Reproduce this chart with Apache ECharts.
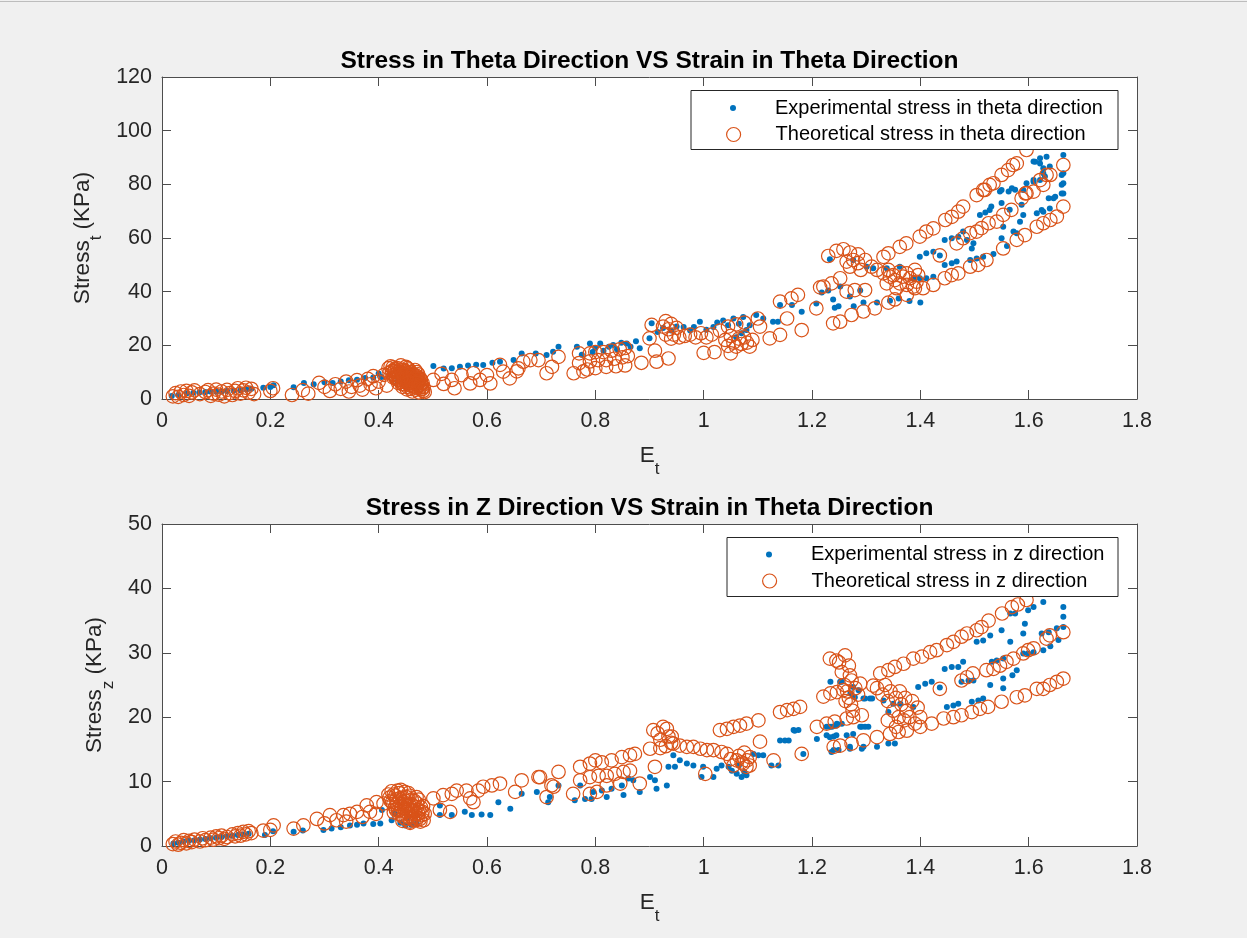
<!DOCTYPE html>
<html>
<head>
<meta charset="utf-8">
<title>Stress vs Strain</title>
<script src="https://cdn.jsdelivr.net/npm/echarts@6/dist/echarts.min.js"></script>
<style>
  html, body { margin: 0; padding: 0; background: #f0f0f0; }
  #chart { width: 1247px; height: 938px; }
</style>
</head>
<body>
<div id="chart"></div>
<script>
// ---- Data: [strain E_t, stress (KPa)] ----
const thetaExp = [
  [0.018,1.1],[0.03,1.5],[0.046,2.1],[0.058,2.3],[0.069,2.4],[0.08,2.6],[0.089,2.8],[0.1,2.7],[0.11,2.8],[0.12,3.0],
  [0.132,3.2],[0.145,3.3],[0.156,3.5],[0.165,3.8],[0.187,4.2],[0.206,5.1],[0.2,4.5],
  [0.243,4.4],[0.262,6.0],[0.28,5.5],[0.3,6.2],[0.315,6.0],[0.33,6.5],[0.345,7.0],[0.36,7.2],[0.375,7.8],[0.39,8.0],
  [0.4,9.5],[0.405,8.2],[0.42,9.0],[0.44,10.2],[0.455,9.5],[0.47,9.0],[0.46,11.0],[0.435,6.5],[0.45,5.5],
  [0.501,12.3],[0.52,11.4],[0.535,11.5],[0.55,12.0],[0.565,12.5],[0.58,12.8],[0.593,12.7],[0.61,13.5],[0.624,13.9],
  [0.649,14.5],[0.664,17.0],[0.69,17.0],[0.71,16.4],[0.722,17.6],[0.732,19.5],
  [0.766,19.5],[0.775,16.5],[0.79,20.7],[0.795,17.5],[0.8,19.0],[0.809,20.7],[0.815,18.0],[0.825,19.5],[0.833,20.1],
  [0.84,18.5],[0.848,21.0],[0.858,20.7],[0.865,19.5],[0.875,21.5],[0.882,18.9],
  [0.904,28.2],[0.9,22.6],[0.915,25.0],[0.925,26.5],[0.94,25.5],[0.95,27.0],[0.963,26.8],[0.975,25.5],[0.982,26.8],
  [0.993,28.8],[1.005,25.8],[1.018,26.8],[1.025,28.5],[1.036,29.3],[1.045,27.5],[1.055,30.0],[1.065,28.0],[1.073,30.6],
  [1.079,25.7],[1.085,27.5],[1.097,31.3],[1.11,30.0],[1.128,28.8],[1.137,28.8],[1.141,35.0],[1.163,35.0],[1.181,32.5],
  [1.208,35.6],[1.06,23.0],[1.07,24.5],
  [1.218,39.7],[1.23,40.4],[1.239,37.1],[1.242,34.0],[1.249,34.6],[1.252,41.9],[1.27,38.2],[1.277,34.6],[1.289,40.4],
  [1.295,36.0],[1.32,36.0],[1.344,36.6],[1.233,52.1],[1.276,51.8],[1.301,49.3],[1.313,48.7],[1.338,48.7],[1.362,49.3],
  [1.387,45.0],[1.399,45.0],[1.411,45.0],[1.424,45.6],[1.399,53.0],[1.411,54.3],[1.424,54.9],[1.436,53.5],[1.445,49.9],
  [1.458,50.6],[1.467,51.2],[1.492,51.8],[1.504,52.4],[1.516,53.0],[1.36,37.5],[1.38,36.5],[1.4,36.0],
  [1.445,59.3],[1.458,59.9],[1.47,60.5],[1.479,62.4],[1.486,59.3],[1.495,56.1],[1.498,58.0],[1.51,68.6],[1.52,69.5],
  [1.528,70.4],[1.531,71.7],[1.55,73.0],[1.565,70.5],[1.553,64.2],[1.55,59.9],[1.578,61.8],[1.572,62.4],[1.547,77.3],
  [1.563,77.3],[1.575,78.0],[1.587,72.4],[1.596,80.4],[1.609,81.6],[1.621,81.6],[1.63,82.9],[1.609,88.5],[1.621,87.8],
  [1.627,86.0],[1.637,74.8],[1.649,75.4],[1.661,76.6],[1.661,79.8],[1.661,83.5],[1.59,68.6],[1.615,69.2],[1.627,69.8],
  [1.584,66.1],[1.612,88.4],[1.621,89.7],[1.633,90.3],[1.639,86.6],[1.627,84.1],[1.609,81.0],[1.59,77.9],[1.569,78.5],
  [1.55,77.9],[1.664,90.9],[1.664,84.1],[1.664,80.4],[1.664,76.6],[1.646,74.8],[1.624,70.4],[1.639,71.0],[1.535,54.0],
  [1.56,57.0]
];

const thetaTheo = [
  [0.02,1.0],[0.025,2.2],[0.03,0.8],[0.035,2.8],[0.04,1.5],[0.045,3.0],[0.05,1.2],[0.055,2.5],[0.06,3.2],[0.07,1.8],
  [0.08,2.6],[0.085,3.3],[0.09,1.2],[0.095,2.0],[0.1,3.5],[0.105,1.6],[0.11,2.8],[0.115,1.0],[0.12,3.4],[0.125,2.2],
  [0.13,1.5],[0.135,3.0],[0.14,4.0],[0.145,2.0],[0.15,3.2],[0.155,4.2],[0.16,2.4],[0.165,3.8],[0.17,1.8],[0.2,3.0],[0.205,4.0],
  [0.24,1.5],[0.26,3.3],[0.27,2.0],[0.29,6.0],[0.3,4.5],[0.31,3.0],[0.32,5.5],[0.33,3.8],[0.34,6.5],[0.345,2.8],
  [0.35,4.5],[0.36,7.0],[0.365,5.0],[0.37,3.5],[0.38,7.5],[0.385,5.5],[0.39,8.5],[0.395,4.0],[0.4,6.5],[0.41,9.0],[0.415,5.0],
  [0.425,10.5],[0.428,9.0],[0.43,11.2],[0.432,7.5],[0.435,10.0],[0.437,8.5],[0.44,6.5],[0.44,11.0],[0.442,9.5],[0.445,7.8],
  [0.447,5.5],[0.448,10.2],[0.45,8.8],[0.452,6.8],[0.453,4.5],[0.455,9.5],[0.457,7.5],[0.458,5.8],[0.46,3.8],[0.46,8.5],
  [0.462,6.5],[0.464,4.8],[0.465,9.0],[0.467,7.0],[0.468,3.5],[0.47,5.5],[0.472,8.0],[0.474,6.2],[0.476,4.2],[0.478,7.0],
  [0.48,5.0],[0.482,3.0],[0.436,6.0],[0.45,12.0],[0.444,4.5],[0.47,10.0],[0.433,9.2],[0.456,11.0],
  [0.418,11.5],[0.42,9.8],[0.422,12.2],[0.426,11.8],[0.429,10.2],[0.431,8.2],[0.434,11.5],[0.438,9.8],[0.439,7.2],[0.441,12.5],
  [0.443,8.8],[0.446,10.8],[0.449,6.2],[0.451,9.6],[0.454,7.2],[0.456,5.2],[0.459,10.0],[0.461,7.8],[0.463,5.8],[0.466,8.2],
  [0.469,4.2],[0.471,6.8],[0.473,9.2],[0.475,5.0],[0.477,7.6],[0.479,3.6],[0.481,6.0],[0.483,4.4],[0.485,2.6],[0.452,3.6],
  [0.462,2.8],[0.474,2.5],[0.444,5.5],[0.437,7.0],[0.453,11.5],[0.467,10.8],[0.427,8.0],[0.458,9.0],[0.464,6.0],[0.448,7.0],
  [0.424,9.4],[0.43,10.6],[0.436,8.9],[0.441,10.0],[0.445,9.0],[0.447,8.2],[0.45,10.4],[0.452,8.0],[0.455,6.4],[0.457,8.6],
  [0.46,7.0],[0.463,9.4],[0.465,7.6],[0.468,6.0],[0.47,8.6],[0.472,5.0],[0.475,6.8],[0.478,5.4],[0.48,3.8],[0.466,4.6],
  [0.501,7.1],[0.516,9.4],[0.52,5.6],[0.535,7.1],[0.54,4.0],[0.553,8.9],[0.569,5.8],[0.575,9.6],[0.587,7.1],[0.6,8.9],
  [0.606,5.8],[0.624,12.7],[0.63,10.2],[0.642,7.7],[0.655,10.3],[0.658,11.4],[0.667,13.9],[0.68,14.5],[0.695,14.5],
  [0.71,9.6],[0.72,12.0],[0.732,15.7],
  [0.76,9.6],[0.77,13.4],[0.778,10.3],[0.77,17.0],[0.79,17.0],[0.8,17.5],[0.815,17.5],[0.83,18.0],[0.845,18.5],[0.855,19.0],
  [0.79,14.0],[0.805,14.5],[0.82,14.5],[0.835,15.0],[0.85,15.5],[0.86,16.0],[0.785,11.0],[0.8,11.5],[0.82,12.0],[0.838,12.2],
  [0.855,12.5],[0.885,13.5],
  [0.904,27.6],[0.9,22.6],[0.91,18.0],[0.913,13.9],[0.935,15.1],[0.925,27.0],[0.93,29.0],[0.935,26.0],[0.94,28.0],[0.945,24.0],
  [0.95,26.5],[0.955,23.0],[0.94,22.5],[0.93,24.0],[0.965,23.5],[0.975,24.0],[0.985,23.0],[0.995,24.5],[1.005,23.0],[1.015,24.0],
  [1.0,17.2],[1.02,17.5],[1.03,25.5],[1.045,27.0],[1.06,27.8],[1.075,28.5],[1.1,30.0],[1.04,22.0],[1.05,23.5],[1.055,21.0],
  [1.06,19.5],[1.065,22.5],[1.07,20.5],[1.075,23.0],[1.08,21.0],[1.085,19.5],[1.09,22.0],[1.045,19.8],[1.05,17.0],[1.104,27.0],
  [1.122,22.6],[1.141,23.9],[1.154,30.0],[1.181,25.7],[1.141,36.3],[1.162,37.5],[1.174,38.8],[1.208,33.8],[1.215,41.6],
  [1.221,41.9],[1.236,43.1],[1.252,45.0],[1.23,53.3],[1.245,55.2],[1.258,55.8],[1.27,54.6],[1.285,53.9],[1.276,51.8],
  [1.264,51.2],[1.285,50.6],[1.298,51.8],[1.27,49.3],[1.29,48.1],[1.31,49.3],[1.32,48.1],[1.332,46.8],[1.341,48.1],[1.35,46.2],
  [1.362,47.4],[1.375,46.8],[1.353,44.3],[1.362,43.1],[1.375,42.5],[1.387,41.9],[1.381,45.0],[1.368,45.6],[1.393,43.7],
  [1.396,46.2],[1.39,48.1],[1.344,45.6],[1.338,43.1],[1.356,41.3],[1.264,40.0],[1.279,40.6],[1.298,40.6],
  [1.239,28.2],[1.252,28.8],[1.273,31.3],[1.295,32.6],[1.316,33.8],[1.341,35.9],[1.353,37.1],[1.375,38.8],[1.39,41.3],
  [1.405,41.3],[1.424,42.5],[1.445,45.0],[1.458,46.2],[1.47,46.8],[1.492,49.3],[1.507,50.0],[1.522,51.8],[1.553,56.1],
  [1.578,59.3],[1.593,61.1],[1.615,64.2],[1.627,65.5],[1.64,66.7],[1.652,68.0],[1.664,71.7],
  [1.436,53.5],[1.467,58.0],[1.479,59.9],[1.492,61.8],[1.504,62.4],[1.513,63.7],[1.526,65.5],[1.541,66.1],[1.553,68.6],
  [1.568,70.5],[1.587,74.8],[1.596,76.7],[1.609,77.3],[1.627,79.8],[1.64,83.5],[1.664,87.2],[1.633,83.5],[1.621,81.6],[1.594,76.6],
  [1.332,53.0],[1.341,54.3],[1.362,56.7],[1.374,58.0],[1.399,60.5],[1.411,62.4],[1.424,63.6],[1.446,66.7],[1.458,67.9],
  [1.47,69.8],[1.479,71.7],[1.504,76.0],[1.519,77.9],[1.528,79.8],[1.55,83.5],[1.562,85.3],[1.571,87.2],[1.578,87.8],
  [1.596,92.8],[1.535,80.4],[1.516,77.9]
];

const zExp = [
  [0.021,0.4],[0.03,0.5],[0.04,0.7],[0.05,0.8],[0.06,0.9],[0.07,1.0],[0.08,1.1],[0.09,1.2],[0.1,1.3],[0.11,1.4],
  [0.12,1.5],[0.13,1.6],[0.14,1.7],[0.15,1.8],[0.16,1.9],[0.19,1.7],[0.205,2.3],
  [0.243,2.2],[0.26,2.4],[0.298,2.5],[0.313,2.7],[0.33,2.9],[0.347,3.2],[0.36,3.3],[0.372,3.5],[0.39,3.4],[0.403,3.5],
  [0.406,5.6],[0.424,4.0],[0.44,3.6],[0.449,3.2],[0.46,3.3],[0.47,3.5],[0.43,5.0],[0.455,4.5],
  [0.513,6.3],[0.513,4.8],[0.535,4.8],[0.559,5.3],[0.572,4.8],[0.59,4.9],[0.606,4.8],[0.621,6.8],[0.643,5.8],[0.664,8.1],
  [0.692,8.4],[0.713,6.8],[0.716,7.6],[0.732,9.4],
  [0.762,7.1],[0.772,9.4],[0.781,7.3],[0.793,7.3],[0.796,8.4],[0.812,8.6],[0.821,7.6],[0.83,8.9],[0.849,9.4],[0.852,7.9],
  [0.861,10.5],[0.87,10.2],[0.882,8.4],
  [0.901,10.7],[0.91,10.2],[0.913,8.9],[0.932,9.4],[0.935,12.3],[0.947,12.3],[0.944,14.1],[0.956,13.3],[0.969,12.8],[0.981,12.5],
  [0.999,12.3],[0.996,10.7],[1.018,10.7],[1.024,12.0],[1.033,12.5],[1.046,12.3],[1.052,11.7],[1.061,11.2],[1.07,10.7],[1.079,11.0],
  [1.092,14.3],[1.101,14.1],[1.11,14.1],[1.125,12.5],[1.138,12.5],[1.141,16.4],[1.157,16.4],[1.166,18.0],[1.175,18.0],[1.184,14.3],
  [1.075,11.5],[1.065,12.5],
  [1.15,16.4],[1.168,17.9],[1.209,16.6],[1.227,18.5],[1.237,18.5],[1.246,19.0],[1.255,19.0],[1.227,17.2],[1.24,17.0],[1.264,17.2],
  [1.276,17.4],[1.24,14.9],[1.249,14.9],[1.27,15.1],[1.292,15.1],[1.292,18.5],[1.304,18.5],[1.298,22.9],[1.307,22.9],[1.234,25.5],
  [1.252,25.5],[1.271,23.7],[1.279,23.1],[1.233,16.9],[1.245,17.2],[1.233,18.5],[1.245,18.7],[1.289,18.5],[1.298,18.5],[1.27,15.4],
  [1.295,15.4],[1.32,15.4],[1.341,15.9],[1.353,15.9],[1.236,14.6],[1.255,25.5],[1.276,24.7],[1.286,24.2],[1.295,22.9],[1.311,22.9],
  [1.332,22.6],[1.341,20.8],[1.35,22.1],[1.363,22.1],[1.387,21.6],
  [1.396,24.7],[1.409,25.2],[1.421,25.5],[1.436,24.6],[1.449,21.6],[1.461,21.8],[1.47,22.1],[1.445,27.5],[1.458,27.8],[1.47,27.8],
  [1.479,28.6],[1.476,25.5],[1.489,25.7],[1.498,25.7],[1.495,22.4],[1.507,22.6],[1.516,22.9],[1.529,25.0],[1.532,28.6],[1.541,28.8],
  [1.553,29.1],[1.553,26.0],[1.578,27.3],[1.59,29.9],[1.599,29.9],[1.609,30.1],[1.627,30.4],[1.504,31.7],[1.516,31.9],[1.529,32.7],
  [1.55,33.5],[1.566,31.7],[1.59,33.0],[1.593,34.5],[1.599,36.6],[1.609,37.1],[1.627,37.9],[1.664,37.1],[1.664,35.6],[1.664,34.0],
  [1.652,33.8],[1.637,33.2],[1.624,33.0],[1.566,36.1],[1.575,36.1],[1.553,24.5],[1.57,26.5],[1.64,31.0],[1.655,32.0]
];

const zTheo = [
  [0.02,0.3],[0.025,0.7],[0.03,0.2],[0.035,0.5],[0.04,0.9],[0.045,0.4],[0.05,0.8],[0.055,0.6],[0.06,1.0],[0.07,0.7],
  [0.075,1.2],[0.08,0.9],[0.09,1.3],[0.095,1.0],[0.1,1.5],[0.105,1.2],[0.11,1.6],[0.115,1.1],[0.12,1.4],[0.13,1.8],
  [0.135,1.5],[0.14,2.0],[0.145,1.6],[0.15,2.2],[0.155,1.8],[0.16,2.3],[0.165,2.0],[0.187,2.4],[0.206,3.2],[0.2,2.5],
  [0.243,2.7],[0.261,3.2],[0.286,4.2],[0.31,4.8],[0.322,4.0],[0.335,4.8],[0.347,5.0],[0.36,5.3],[0.378,6.3],[0.384,5.3],
  [0.396,6.8],[0.409,6.6],[0.3,3.5],[0.34,3.8],[0.37,4.5],[0.395,5.0],
  [0.42,7.5],[0.425,6.8],[0.428,8.0],[0.43,6.0],[0.433,7.2],[0.436,5.5],[0.438,8.2],[0.44,6.5],[0.442,4.8],[0.445,7.5],
  [0.447,5.8],[0.45,4.2],[0.45,7.0],[0.452,6.2],[0.455,5.0],[0.457,7.8],[0.46,4.5],[0.46,6.5],[0.462,5.5],[0.465,4.0],
  [0.466,7.0],[0.468,5.0],[0.47,6.0],[0.472,4.4],[0.475,5.5],[0.477,3.8],[0.48,4.8],[0.482,6.2],[0.435,8.6],[0.444,3.9],
  [0.448,8.4],[0.458,3.6],[0.474,7.2],[0.428,5.2],
  [0.418,8.0],[0.422,7.0],[0.424,8.5],[0.427,6.5],[0.431,7.8],[0.434,6.6],[0.437,5.0],[0.439,7.4],[0.441,8.7],[0.443,6.0],
  [0.446,6.8],[0.449,5.3],[0.451,7.6],[0.453,4.6],[0.456,6.4],[0.459,5.6],[0.461,7.2],[0.463,4.3],[0.464,6.2],[0.467,5.4],
  [0.469,4.0],[0.471,6.6],[0.473,5.0],[0.476,4.2],[0.478,6.0],[0.481,5.3],[0.483,4.0],[0.485,5.0],[0.455,8.2],[0.47,7.6],
  [0.446,4.4],[0.458,3.8],[0.44,5.6],[0.432,5.6],
  [0.501,7.4],[0.519,7.9],[0.535,8.1],[0.513,5.6],[0.532,5.3],[0.544,8.6],[0.562,8.6],[0.584,8.6],[0.569,7.4],[0.575,6.8],
  [0.593,9.2],[0.609,9.4],[0.624,9.7],[0.652,8.4],[0.664,10.2],[0.695,10.7],[0.71,7.6],[0.732,11.5],[0.723,9.2],[0.698,10.7],[0.719,9.4],
  [0.759,8.1],[0.772,12.3],[0.79,12.8],[0.8,13.3],[0.812,13.0],[0.83,13.3],[0.849,13.8],[0.864,14.1],[0.873,14.3],[0.772,10.2],
  [0.79,10.7],[0.806,10.9],[0.821,10.9],[0.836,11.2],[0.852,11.5],[0.864,11.7],[0.79,8.1],[0.803,8.4],[0.821,9.4],[0.846,9.7],[0.882,9.7],
  [0.901,15.1],[0.91,12.3],[0.907,18.0],[0.932,18.2],[0.941,17.0],[0.944,15.9],[0.956,15.6],[0.969,15.4],[0.981,15.4],[0.994,15.1],
  [1.006,14.9],[1.003,11.2],[1.03,18.0],[1.043,18.2],[1.055,18.5],[1.067,18.7],[1.079,19.0],[1.101,19.5],[1.018,14.9],[1.033,14.6],
  [1.043,14.3],[1.061,13.3],[1.073,12.8],[1.079,12.3],[1.085,13.8],[1.104,16.2],[1.129,13.3],[0.915,17.5],[0.92,16.5],[0.925,18.5],
  [0.93,15.5],[0.935,17.0],[0.94,16.0],[0.92,15.2],[1.05,13.5],[1.055,12.5],[1.065,14.0],[1.07,13.0],[1.075,14.5],[1.08,13.3],[1.085,12.5],
  [1.141,20.8],[1.154,21.1],[1.166,21.3],[1.178,21.6],[1.181,14.3],[1.209,18.5],
  [1.273,25.7],[1.289,25.2],[1.313,24.9],[1.26,25.0],[1.265,24.0],[1.268,23.0],[1.272,22.0],[1.275,21.0],[1.28,24.5],[1.285,23.5],
  [1.262,22.5],[1.27,26.5],[1.233,29.1],[1.261,29.6],[1.25,28.5],[1.268,28.0],[1.255,27.0],[1.245,28.8],
  [1.32,24.5],[1.33,23.5],[1.335,25.0],[1.34,22.5],[1.345,24.0],[1.35,21.0],[1.355,23.0],[1.36,20.0],[1.362,24.0],[1.365,22.0],
  [1.37,19.5],[1.372,23.0],[1.375,21.0],[1.38,20.0],[1.385,22.5],[1.39,19.0],[1.395,21.5],[1.4,20.0],[1.355,18.5],[1.34,19.5],
  [1.24,15.4],[1.252,15.6],[1.273,15.9],[1.295,16.4],[1.32,16.9],[1.344,17.4],[1.36,17.7],[1.375,17.9],[1.4,18.5],[1.421,19.0],
  [1.443,19.8],[1.461,20.0],[1.476,20.3],[1.495,20.8],[1.51,21.3],[1.525,21.6],[1.55,22.4],[1.578,23.1],[1.593,23.4],[1.615,24.4],
  [1.627,24.4],[1.639,25.0],[1.652,25.5],[1.664,26.0],
  [1.227,19.0],[1.242,19.3],[1.264,19.8],[1.276,20.0],[1.292,20.3],[1.436,24.4],[1.476,25.7],[1.486,26.2],[1.497,26.8],[1.522,27.3],
  [1.535,27.5],[1.547,28.0],[1.559,28.6],[1.572,29.1],[1.59,29.9],[1.599,30.4],[1.609,30.7],[1.633,32.2],[1.639,32.7],[1.664,33.2],
  [1.221,23.2],[1.234,23.7],[1.246,23.9],[1.258,24.2],[1.326,26.8],[1.341,27.3],[1.353,27.8],[1.369,28.3],[1.387,29.1],[1.403,29.4],
  [1.418,30.1],[1.43,30.4],[1.449,31.2],[1.461,31.7],[1.476,32.5],[1.486,33.0],[1.504,33.5],[1.513,34.0],[1.526,35.0],[1.551,36.1],
  [1.569,37.1],[1.58,37.5],[1.596,38.2]
];

const seriesNames = [
  'Experimental stress in theta direction',
  'Theoretical stress in theta direction',
  'Experimental stress in z direction',
  'Theoretical stress in z direction'
];
const plotTitles = [
  'Stress in Theta Direction VS Strain in Theta Direction',
  'Stress in Z Direction VS Strain in Theta Direction'
];
const strainRange = [0, 1.8, 0.2];      // min, max, step
const thetaStressRange = [0, 120, 20];
const zStressRange = [0, 50, 10];

// ---- Styling ----
const FONT = '"Liberation Sans", Arial, Helvetica, sans-serif';
const INK = '#262626';
const AXIS = '#4d4d4d';
const BLUE = '#0072BD';
const ORANGE = '#D95319';
const GRID_LEFT = 162, GRID_W = 975, GRID_H = 322;
const GRID_TOPS = [77, 524];

const nameRich = {
  m: { fontSize: 22.5, fontFamily: FONT, color: INK, lineHeight: 24 },
  s: { fontSize: 17, fontFamily: FONT, color: INK, lineHeight: 18, padding: [28, 0, 0, 0] }
};

function axisPair(gridIndex, range, isX, name) {
  const common = {
    gridIndex, type: 'value', min: range[0], max: range[1], interval: range[2],
    axisLine: { show: true, onZero: false, lineStyle: { color: AXIS, width: 1 } },
    axisTick: { show: true, inside: true, length: 9, lineStyle: { color: AXIS, width: 1 } },
    splitLine: { show: false }
  };
  const main = Object.assign({}, common, {
    position: isX ? 'bottom' : 'left',
    axisLabel: { show: true, fontSize: 21.5, fontFamily: FONT, color: INK, margin: isX ? 11 : 10,
                 showMinLabel: true, showMaxLabel: true },
    name,
    nameLocation: 'middle',
    nameGap: isX ? 32 : 48,
    nameRotate: isX ? 0 : 90,
    nameTextStyle: { rich: nameRich }
  });
  const mirror = Object.assign({}, common, {
    position: isX ? 'top' : 'right',
    axisLabel: { show: false }
  });
  return [main, mirror];
}

const xAxes = [], yAxes = [];
[0, 1].forEach(i => {
  xAxes.push(...axisPair(i, strainRange, true, '{m|E}{s|t}'));
});
yAxes.push(...axisPair(0, thetaStressRange, false, '{m|Stress}{s|t}{m| (KPa)}'));
yAxes.push(...axisPair(1, zStressRange, false, '{m|Stress}{s|z}{m| (KPa)}'));

function expSeries(name, xi, yi, data) {
  return { name, type: 'scatter', xAxisIndex: xi, yAxisIndex: yi, data,
    symbol: 'circle', symbolSize: 6, itemStyle: { color: BLUE, opacity: 1 },
    animation: false, silent: true, z: 2 };
}
function theoSeries(name, xi, yi, data) {
  return { name, type: 'scatter', xAxisIndex: xi, yAxisIndex: yi, data,
    symbol: 'circle', symbolSize: 13.5,
    itemStyle: { color: 'rgba(0,0,0,0)', borderColor: ORANGE, borderWidth: 1.2, opacity: 1 },
    animation: false, silent: true, z: 3 };
}

// one legend row; the icon sits at the row's left edge
function legendEntry(name, left, top, isExp) {
  return {
    show: true, left, top, padding: 0, orient: 'vertical', selectedMode: false,
    itemWidth: 74, itemHeight: isExp ? 6 : 14, itemGap: 0,
    textStyle: { fontSize: 20, fontFamily: FONT, color: '#000', lineHeight: 20 },
    data: [{
      name, icon: 'circle',
      itemStyle: isExp
        ? { color: BLUE, borderWidth: 0 }
        : { color: 'rgba(0,0,0,0)', borderColor: ORANGE, borderWidth: 1.2 }
    }],
    z: 6
  };
}

const legendBoxes = [
  { x: 691, y: 90.5, w: 427, h: 59 },
  { x: 727, y: 537.5, w: 391, h: 59 }
];

const option = {
  backgroundColor: '#f0f0f0',
  animation: false,
  grid: GRID_TOPS.map(t => ({
    left: GRID_LEFT, top: t, width: GRID_W, height: GRID_H,
    show: true, backgroundColor: '#ffffff', borderWidth: 0, containLabel: false
  })),
  xAxis: xAxes,
  yAxis: yAxes,
  legend: [
    legendEntry(seriesNames[0], 730, 98, true),
    legendEntry(seriesNames[1], 726, 124.5, false),
    legendEntry(seriesNames[2], 766, 544.5, true),
    legendEntry(seriesNames[3], 762, 571, false)
  ],
  graphic: [
    { type: 'rect', left: 0, top: 1, shape: { width: 1247, height: 1 },
      style: { fill: '#bdbdbd' }, z: 1, silent: true },
    ...plotTitles.map((t, i) => ({
      type: 'text', x: GRID_LEFT + GRID_W / 2, y: GRID_TOPS[i] - 16, silent: true,
      style: { text: t, font: 'bold 24.5px ' + FONT, fill: '#000',
               textAlign: 'center', textVerticalAlign: 'middle' }
    })),
    ...legendBoxes.map(b => ({
      type: 'rect', shape: { x: b.x, y: b.y, width: b.w, height: b.h }, z: 5, silent: true,
      style: { fill: '#ffffff', stroke: INK, lineWidth: 1 }
    }))
  ],
  series: [
    expSeries(seriesNames[0], 0, 0, thetaExp),
    theoSeries(seriesNames[1], 0, 0, thetaTheo),
    expSeries(seriesNames[2], 2, 2, zExp),
    theoSeries(seriesNames[3], 2, 2, zTheo)
  ]
};

const chart = echarts.init(document.getElementById('chart'), null, { renderer: 'canvas' });
chart.setOption(option);
</script>
</body>
</html>
